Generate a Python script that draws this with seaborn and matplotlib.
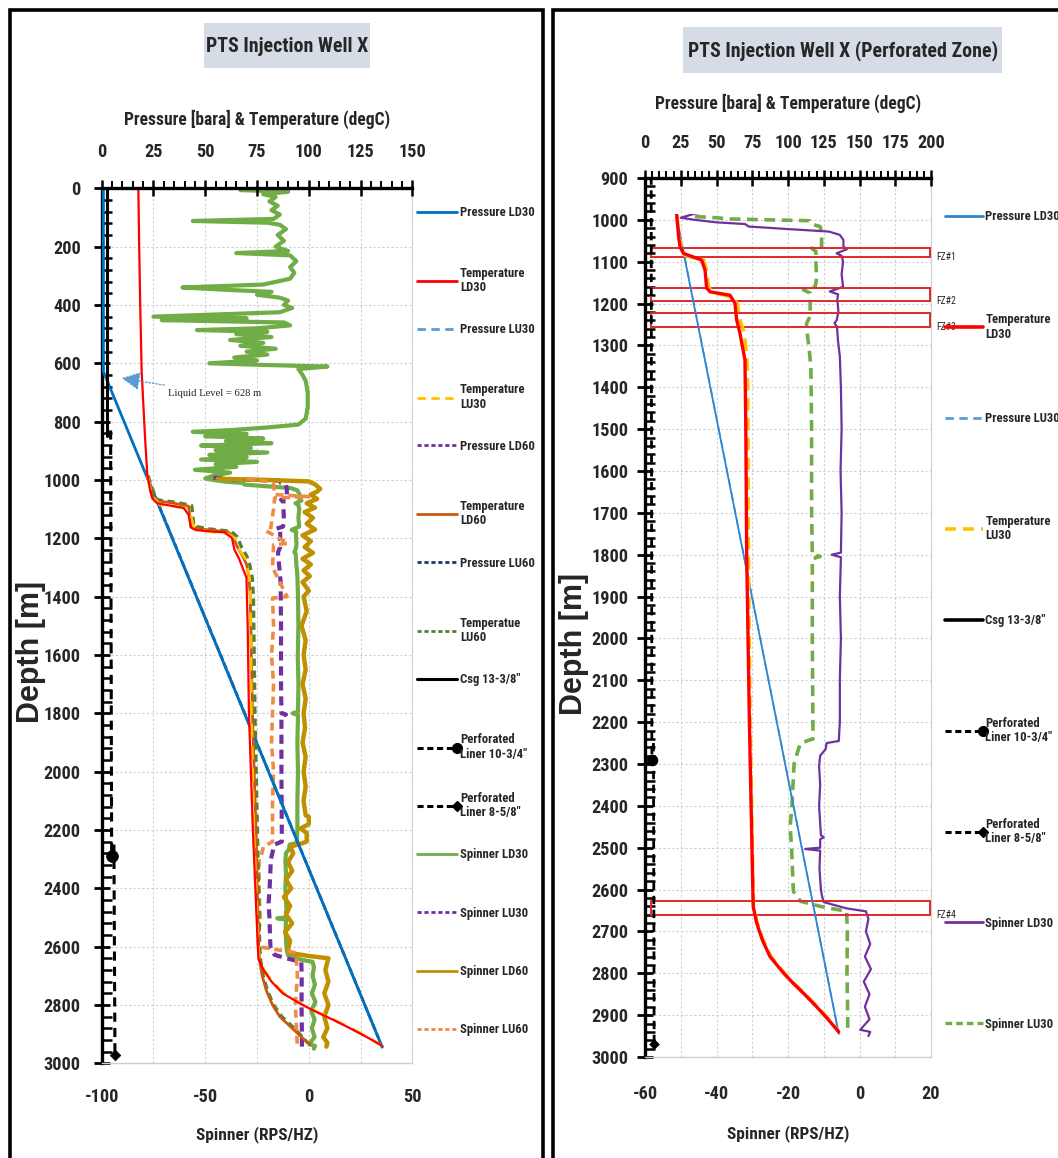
import matplotlib
matplotlib.use("Agg")
import matplotlib.pyplot as plt
import seaborn as sns
import pandas as pd
from matplotlib import font_manager as fm
from matplotlib.lines import Line2D
from matplotlib.patches import Rectangle
from matplotlib.ticker import MultipleLocator
from matplotlib.legend_handler import HandlerLine2D
import matplotlib.transforms as mtransforms

# ---------------------------------------------------------------- data
PRES_LD30_D = [0, 628, 2945]
PRES_LD30_P = [0.8, 0.8, 135.5]
PRES_LU30_D = [995, 2945]
PRES_LU30_P = [22.3, 135.5]
PRES_LD60_D = [995, 2945]
PRES_LD60_P = [22.3, 135.5]
PRES_LU60_D = [995, 2945]
PRES_LU60_P = [22.3, 135.5]

TEMP_LD30_D = [0, 200, 400, 628, 850, 980, 988, 1040, 1064, 1080, 1096, 1120, 1163, 1172,
               1180, 1199, 1239, 1271, 1335, 1500, 1800, 2200, 2600, 2641, 2680, 2720, 2760,
               2800, 2824, 2850, 2880, 2910, 2940]
TEMP_LD30_T = [17.7, 18.1, 18.6, 19.3, 20.9, 22.0, 22.2, 23.5, 24.5, 26.8, 39.6, 42.0, 43.1, 45.5,
               59.4, 62.9, 64.1, 66.4, 69.9, 70.5, 71.1, 73.0, 75.4, 75.7, 78.1, 82.0, 87.4,
               97.0, 103.7, 111.5, 120.0, 128.0, 135.5]
TEMP_LU30_D = [988, 1040, 1064, 1085, 1096, 1120, 1163, 1175, 1185, 1200, 1240, 1271, 1335, 1400,
               1800, 2200, 2600, 2641, 2680, 2720, 2760, 2800, 2824, 2850, 2880, 2910, 2940]
TEMP_LU30_T = [22.2, 23.8, 25.5, 28.0, 41.0, 43.0, 44.5, 50.0, 61.0, 64.5, 66.5, 69.5, 71.3, 71.8,
               72.3, 73.5, 75.6, 75.9, 78.5, 82.5, 88.0, 97.5, 104.0, 112.0, 120.5, 128.5, 135.5]
TEMP_LD60_D = [985, 1000, 1020, 1050, 1070, 1080, 1090, 1160, 1170, 1178, 1195, 1230, 1260, 1290,
               1340, 1411, 1800, 2200, 2600, 2650, 2700, 2750, 2800, 2840, 2880, 2910, 2935]
TEMP_LD60_T = [22.0, 22.5, 23.5, 24.5, 26.0, 35.0, 42.0, 43.0, 50.0, 61.0, 63.5, 65.5, 68.0, 70.0,
               71.2, 71.8, 72.8, 74.5, 75.8, 76.3, 77.5, 79.5, 82.5, 86.0, 92.0, 96.5, 100.5]
TEMP_LU60_D = [985, 1000, 1020, 1050, 1068, 1078, 1088, 1158, 1168, 1176, 1195, 1230, 1260, 1290,
               1340, 1411, 1800, 2200, 2600, 2650, 2700, 2750, 2800, 2840, 2880, 2910, 2930]
TEMP_LU60_T = [22.5, 23.0, 24.0, 25.5, 27.0, 37.0, 43.5, 44.5, 52.0, 62.5, 65.5, 67.5, 70.0, 71.5,
               72.8, 73.3, 74.0, 75.2, 76.3, 76.8, 78.0, 80.0, 83.0, 87.0, 93.0, 97.0, 99.5]

CSG_D = [0, 850]
CSG_P = [2.6, 2.6]
LINER1_D = [830, 2290]
LINER1_P = [4.3, 4.8]
LINER2_D = [2250, 2970]
LINER2_P = [5.9, 6.4]

SPIN_LD30_D = [0, 6, 12, 20, 30, 45, 60, 75, 90, 105, 112, 118, 125, 140, 160, 180, 200, 215, 222,
               230, 250, 270, 290, 310, 330, 340, 348, 355, 365, 375, 385, 400, 410, 425, 440, 446,
               452, 460, 470, 480, 486, 492, 500, 510, 520, 530, 540, 550, 560, 570, 580, 590, 600,
               606, 611, 620, 640, 660, 700, 750, 790, 810, 820, 829, 835, 842, 850, 858, 866, 874,
               882, 890, 898, 906, 914, 922, 930, 938, 946, 955, 965, 975, 985, 995,
               1000, 1006, 1010, 1016, 1022, 1028, 1036, 1048, 1064, 1070, 1080, 1086, 1100, 1130,
               1160, 1171, 1178, 1190, 1220, 1240, 1247, 1255, 1290, 1326, 1400, 1500, 1600, 1700,
               1795, 1800, 1806, 1900, 2000, 2100, 2200, 2245, 2250, 2265, 2280, 2305, 2350, 2400,
               2470, 2475, 2480, 2500, 2503, 2507, 2550, 2600, 2615, 2630, 2645, 2652, 2670, 2700,
               2730, 2760, 2790, 2820, 2850, 2880, 2910, 2935, 2940, 2950]
SPIN_LD30_V = [-9, -33, -10, -22, -16, -19, -15, -18, -14, -17, -56, -20, -14, -11, -15, -12, -16,
               -10, -35, -9, -6, -9, -7, -9, -22, -61, -40, -18, -25, -14, -10, -12, -8, -14, -75,
               -30, -71, -12, -9, -25, -54, -20, -35, -18, -38, -22, -33, -16, -30, -20, -36, -25,
               -48, -20, 9, -5, -3, -1.5, -0.5, -0.5, -1.5, -5, -20, -38, -56, -30, -50, -22, -40,
               -18, -52, -28, -45, -20, -48, -30, -52, -25, -45, -35, -55, -38, -46, -50,
               -46, -40, -32, -31, -20, -8.5, -5.5, -4.5, -4.5, -3.5, -6.4, -5, -4.6, -5,
               -4.6, -8.3, -6, -6.2, -5.9, -6.4, -7, -6.3, -6, -5.5, -5.2, -5, -5.3, -5,
               -5.2, -7.8, -5.2, -5.5, -5.2, -5.5, -5.5, -5.8, -9.2, -9.5, -11, -11.3, -11, -11.3,
               -10.8, -10, -11, -11, -15.2, -11, -11.2, -10.8, -10.5, -10, -3.6, 1.8, 2.5, 1.8,
               3, 1.5, 3.2, 1.2, 2.8, 1.5, 2.8, 0.2, 3, 2.5]
SPIN_LU30_D = [992, 995, 998, 1000, 1002, 1010, 1016, 1032, 1064, 1068, 1075, 1100, 1140, 1160,
               1167, 1175, 1230, 1247, 1260, 1300, 1350, 1500, 1700, 1800, 1804, 1810, 2000, 2240,
               2250, 2265, 2300, 2400, 2450, 2500, 2604, 2628, 2640, 2652, 2700, 2800, 2900, 2943]
SPIN_LU30_V = [-46, -40, -36, -25, -14, -13.5, -11, -10.6, -10.6, -13.4, -12.2, -12.2, -12.0, -12.4,
               -15.7, -13.8, -13.8, -14.8, -14.8, -14.2, -13.6, -13.4, -13.4, -13.2, -11, -13.2,
               -13.2, -13.0, -16.5, -17.1, -18.3, -18.9, -19.4, -19.0, -18.5, -16.5, -11, -3.6,
               -3.4, -3.5, -3.3, -3.3]
SPIN_LD60_D = [996, 1000, 1005, 1015, 1030, 1040, 1050, 1065, 1080, 1095, 1110, 1130, 1150, 1170,
               1190, 1210, 1230, 1250, 1270, 1290, 1310, 1330, 1350, 1380, 1400, 1450, 1500, 1550,
               1600, 1650, 1700, 1750, 1800, 1850, 1900, 1950, 2000, 2050, 2100, 2150, 2155, 2180,
               2195, 2210, 2240, 2250, 2257, 2280, 2310, 2340, 2370, 2400, 2430, 2460, 2490, 2520,
               2550, 2580, 2610, 2622, 2632, 2640, 2680, 2720, 2760, 2800, 2840, 2880, 2910, 2930,
               2943]
SPIN_LD60_V = [-44, -20, 0, 3, 5.5, 4, 1, 4, -1, 3, -2, 2, -1, 3, -3, 1, -2, 2, -3, 1, -2.5, 0.5,
               -3, 0, -2.5, -1, -3.5, -1.5, -2.5, -1.5, -3, -1.5, -2.5, -1.8, -3, -1.5, -2.5, -1.5,
               -2.5, -1.5, 0, 0, -4, -1, -1, -5, -9, -7.5, -10, -8, -11, -8.5, -12, -9, -11, -8,
               -11.5, -9, -10, -9, 0, 9.5, 8, 9.5, 7.5, 9.5, 7.5, 9, 7, 9, 8.5]
SPIN_LU60_D = [995, 1005, 1015, 1050, 1057, 1062, 1100, 1171, 1175, 1217, 1222, 1300, 1400, 1405,
               1500, 1600, 1700, 1800, 1900, 2000, 2100, 2240, 2246, 2257, 2290, 2300, 2400, 2500,
               2600, 2611, 2620, 2640, 2700, 2800, 2943]
SPIN_LU60_V = [-30, -20, -17, -16.5, 0, -16.5, -17, -18.5, -20.5, -10, -17, -17.5, -10.5, -17.5,
               -17, -18, -17, -17.5, -18, -17, -17.5, -17.5, -19, -21.9, -23, -24, -24, -23.5,
               -24.5, -15, -7, -6, -5.5, -6.5, -5.5]

FZ_NAMES = ["FZ#1", "FZ#2", "FZ#3", "FZ#4"]
FZ_TOP = [1068, 1163, 1223, 2628]
FZ_BOTTOM = [1088, 1195, 1255, 2660]
LIQUID_LEVEL = 628

LEFT_LABELS = ["Pressure LD30", "Temperature\nLD30", "Pressure LU30", "Temperature\nLU30",
               "Pressure LD60", "Temperature\nLD60", "Pressure LU60", "Temperatue\nLU60",
               "Csg 13-3/8\"", "Perforated\nLiner 10-3/4\"", "Perforated\nLiner 8-5/8\"",
               "Spinner LD30", "Spinner LU30", "Spinner LD60", "Spinner LU60"]
RIGHT_LABELS = ["Pressure LD30", "Temperature\nLD30", "Pressure LU30", "Temperature\nLU30",
                "Csg 13-3/8\"", "Perforated\nLiner 10-3/4\"", "Perforated\nLiner 8-5/8\"",
                "Spinner LD30", "Spinner LU30"]

# ---------------------------------------------------------------- fonts
sns.set_theme(style="white")
AVAIL = {f.name for f in fm.fontManager.ttflist}
COND = next(n for n in ["Liberation Sans Narrow", "Roboto Condensed", "Open Sans Condensed",
                        "DejaVu Sans Condensed", "Liberation Sans", "DejaVu Sans"]
            if n in AVAIL or n == "DejaVu Sans")
FAM = [COND, "DejaVu Sans"]
BOLD = ["Liberation Sans", "DejaVu Sans"]
SERIF = ["Liberation Serif", "DejaVu Serif"]
plt.rcParams["font.family"] = FAM
plt.rcParams["axes.unicode_minus"] = False
WT = "bold"

W, H = 1058, 1158
fig = plt.figure(figsize=(W / 100, H / 100), dpi=100)
fig.patch.set_facecolor("white")
RENDER = fig.canvas.get_renderer()


def fit(text, target_px, family=None, weight=WT, ref=10.0):
    t = fig.text(0, 0, text, fontsize=ref, family=family or FAM, fontweight=weight)
    w = t.get_window_extent(renderer=RENDER).width
    t.remove()
    return ref * target_px / w


FS_TICK = fit("1000", 37)
FS_AXLAB = fit("Pressure [bara] & Temperature (degC)", 267)
FS_SPIN = fit("Spinner (RPS/HZ)", 122)
FS_TITLE = fit("PTS Injection Well X", 162)
FS_LEG = fit("Pressure LD30", 74)
FS_DEPTH = fit("Depth [m]", 142, family=BOLD, weight="bold")
FS_LIQ = fit("Liquid Level = 628 m", 94, family=SERIF, weight="normal")
FS_FZ = fit("FZ#1", 20, weight="normal")

SHORT = (0, (2.2, 1.4))
LONG = (0, (5, 3))
GRIDC = "#CFCFCF"


class EndMarkerHandler(HandlerLine2D):
    """Legend handle: dashed line with its marker drawn at the right end."""

    def create_artists(self, legend, orig_handle, xdescent, ydescent, width, height,
                       fontsize, trans):
        arts = super().create_artists(legend, orig_handle, xdescent, ydescent, width, height,
                                      fontsize, trans)
        for a in arts:
            if a.get_marker() not in (None, "None", "", " "):
                a.set_markevery([len(a.get_xdata()) - 1])
        return arts


def prof(ax, vals, depths, color, ls="-", lw=1.5, dmin=None, z=2):
    df = pd.DataFrame({"val": vals, "depth": depths})
    sns.lineplot(data=df, x="val", y="depth", sort=False, estimator=None, ax=ax,
                 color=color, linestyle=ls, linewidth=lw, legend=False, zorder=z)
    if dmin is not None:
        clip = Rectangle((-1000, dmin), 3000, 5000, transform=ax.transData)
        ax.lines[-1].set_clip_path(clip)


def end_marker(ax, vals, depths, marker, size):
    sns.scatterplot(x=[vals[-1]], y=[depths[-1]], marker=marker, s=size, color="black",
                    edgecolor="black", ax=ax, legend=False, zorder=6)


def px_axes(x0, y0, x1, y1):
    return [x0 / W, 1 - y1 / H, (x1 - x0) / W, (y1 - y0) / H]


def style_axes(ax, ax2, xlim_s, xlim_p, ylim, ymaj, ymin_, s_major, s_grid, p_minor,
               ypad, xpad_top, xpad_bot, toplabpad, botlabpad):
    ax.set_xlim(*xlim_s)
    ax.set_ylim(*ylim)
    ax2.set_xlim(*xlim_p)
    ax.xaxis.set_major_locator(MultipleLocator(s_major))
    ax.xaxis.set_minor_locator(MultipleLocator(s_grid))
    ax.yaxis.set_major_locator(MultipleLocator(ymaj))
    ax.yaxis.set_minor_locator(MultipleLocator(ymin_))
    ax2.xaxis.set_major_locator(MultipleLocator(25))
    ax2.xaxis.set_minor_locator(MultipleLocator(p_minor))
    ax.grid(True, axis="x", which="both", color=GRIDC, linestyle=(0, (2, 2)), lw=0.8)
    ax.grid(True, axis="y", which="major", color=GRIDC, linestyle=(0, (2, 2)), lw=0.8)
    ax.set_axisbelow(True)
    ax.spines["top"].set_visible(False)
    ax.spines["left"].set_color("black")
    ax.spines["left"].set_linewidth(2.4)
    ax.spines["bottom"].set_color(GRIDC)
    ax.spines["right"].set_color(GRIDC)
    ax.spines["bottom"].set_linewidth(1)
    ax.spines["right"].set_linewidth(0.8)
    for s in ["left", "right", "bottom"]:
        ax2.spines[s].set_visible(False)
    ax2.spines["top"].set_color("black")
    ax2.spines["top"].set_linewidth(2.4)
    ax.tick_params(axis="x", which="both", length=0, labelsize=FS_TICK, pad=xpad_bot)
    ax.tick_params(axis="y", which="major", direction="inout", length=12, width=2,
                   color="black", labelsize=FS_TICK, left=True, pad=ypad)
    ax.tick_params(axis="y", which="minor", direction="in", length=7, width=1.8,
                   color="black", left=True)
    ax2.tick_params(axis="x", which="major", direction="inout", length=12, width=1.8,
                    color="black", labelsize=FS_TICK, pad=xpad_top, top=True)
    ax2.tick_params(axis="x", which="minor", direction="out", length=5, width=1.4,
                    color="black", top=True)
    for lab in ax.get_xticklabels() + ax.get_yticklabels() + ax2.get_xticklabels():
        lab.set_fontweight(WT)
    ax.set_xlabel("Spinner (RPS/HZ)", fontsize=FS_SPIN, labelpad=botlabpad, fontweight=WT)
    ax2.set_xlabel("Pressure [bara] & Temperature (degC)", fontsize=FS_AXLAB,
                   labelpad=toplabpad, fontweight=WT)
    ax.set_ylabel("Depth [m]", fontsize=FS_DEPTH, fontweight="bold", family=BOLD)


def legend_entries(handles, labels, x_px, y0_px, step_px, hlen):
    for i, (h, lab) in enumerate(zip(handles, labels)):
        nl = lab.count("\n") + 1
        y = y0_px + i * step_px + (nl - 1) * 9.0
        leg = fig.legend([h], [lab], loc="center left",
                         bbox_to_anchor=(x_px / W, 1 - y / H), frameon=False,
                         prop={"family": FAM, "size": FS_LEG, "weight": WT}, handlelength=hlen,
                         handletextpad=0.2, borderpad=0, borderaxespad=0,
                         handler_map={h: EndMarkerHandler()})
        for t in leg.get_texts():
            t.set_linespacing(1.15)


# ---------------------------------------------------------------- left panel
axL = fig.add_axes(px_axes(101.7, 188.3, 412.3, 1063.3))
axL2 = axL.twiny()

prof(axL, SPIN_LD30_V, SPIN_LD30_D, "#70AD47", "-", 3.0, z=3)
prof(axL, SPIN_LU30_V, SPIN_LU30_D, "#7030A0", SHORT, 3.0, z=3)
prof(axL, SPIN_LD60_V, SPIN_LD60_D, "#BF9000", "-", 3.2, z=3)
prof(axL, SPIN_LU60_V, SPIN_LU60_D, "#F08A44", SHORT, 2.6, z=3)

prof(axL2, PRES_LU60_P, PRES_LU60_D, "#203864", SHORT, 2.0)
prof(axL2, PRES_LD60_P, PRES_LD60_D, "#7030A0", SHORT, 1.6)
prof(axL2, PRES_LU30_P, PRES_LU30_D, "#5B9BD5", LONG, 1.6)
prof(axL2, PRES_LD30_P, PRES_LD30_D, "#0070C0", "-", 2.0)
prof(axL2, TEMP_LU60_T, TEMP_LU60_D, "#548235", SHORT, 2.4)
prof(axL2, TEMP_LD60_T, TEMP_LD60_D, "#C55A11", "-", 2.0)
prof(axL2, TEMP_LU30_T, TEMP_LU30_D, "#FFC000", LONG, 2.0)
prof(axL2, TEMP_LD30_T, TEMP_LD30_D, "#FF0000", "-", 1.6)
prof(axL2, CSG_P, CSG_D, "black", "-", 2.2)
prof(axL2, LINER1_P, LINER1_D, "black", (0, (3, 2)), 2.2)
prof(axL2, LINER2_P, LINER2_D, "black", (0, (3, 2)), 2.2)
end_marker(axL2, LINER1_P, LINER1_D, "o", 70)
end_marker(axL2, LINER2_P, LINER2_D, "D", 30)

style_axes(axL, axL2, (-100, 50), (0, 150), (3000, 0), 200, 40, 50, 25, 5,
           ypad=9, xpad_top=14, xpad_bot=18, toplabpad=13, botlabpad=14)
axL.yaxis.set_label_coords(-0.178, 0.47)

axL2.annotate(f"Liquid Level = {LIQUID_LEVEL} m", xy=(9.6, LIQUID_LEVEL + 23),
              xytext=(32, LIQUID_LEVEL + 75), fontsize=FS_LIQ, va="center", ha="left",
              family=SERIF,
              arrowprops=dict(arrowstyle="-|>", color="#5B9BD5", linestyle=(0, (1, 1.5)),
                              lw=1, mutation_scale=28, shrinkA=2, shrinkB=0))

# ---------------------------------------------------------------- right panel
axR = fig.add_axes(px_axes(645, 178, 931, 1057))
axR2 = axR.twiny()
DMIN = 985
prof(axR, SPIN_LU30_V, SPIN_LU30_D, "#70AD47", (0, (3, 1.8)), 2.6, dmin=DMIN, z=3)
prof(axR, SPIN_LD30_V, SPIN_LD30_D, "#7030A0", "-", 1.6, dmin=DMIN, z=3)

prof(axR2, PRES_LU30_P, PRES_LU30_D, "#5B9BD5", LONG, 1.2, dmin=DMIN)
prof(axR2, PRES_LD30_P, PRES_LD30_D, "#2F86D0", "-", 1.3, dmin=DMIN)
prof(axR2, TEMP_LU30_T, TEMP_LU30_D, "#FFC000", (0, (3.5, 2)), 2.6, dmin=DMIN)
prof(axR2, TEMP_LD30_T, TEMP_LD30_D, "#FF0000", "-", 2.4, dmin=DMIN)
prof(axR2, CSG_P, CSG_D, "black", "-", 2.2)
prof(axR2, LINER1_P, LINER1_D, "black", (0, (3, 2)), 2.0)
prof(axR2, LINER2_P, LINER2_D, "black", (0, (3, 2)), 2.0)
end_marker(axR2, LINER1_P, LINER1_D, "o", 60)
end_marker(axR2, LINER2_P, LINER2_D, "D", 25)

style_axes(axR, axR2, (-60, 20), (0, 200), (3000, 900), 100, 20, 20, 10, 5,
           ypad=6, xpad_top=12.5, xpad_bot=20, toplabpad=18.5, botlabpad=16)
axR.yaxis.set_label_coords(-0.195, 0.47)

tr = mtransforms.blended_transform_factory(axR.transAxes, axR.transData)
for name, top, bot in zip(FZ_NAMES, FZ_TOP, FZ_BOTTOM):
    axR.axhspan(top, bot, xmin=0.02, xmax=0.995, fill=False, edgecolor="#E0282A",
                lw=1.4, zorder=5)
    axR.text(1.02, bot, name, transform=tr, fontsize=FS_FZ, va="center", ha="left")

# ---------------------------------------------------------------- legends
LHL = [
    Line2D([], [], color="#0070C0", lw=2),
    Line2D([], [], color="#FF0000", lw=2),
    Line2D([], [], color="#5B9BD5", lw=2, ls=(0, (3, 2))),
    Line2D([], [], color="#FFC000", lw=2, ls=(0, (3, 2))),
    Line2D([], [], color="#7030A0", lw=2, ls=(0, (1.5, 1))),
    Line2D([], [], color="#C55A11", lw=2),
    Line2D([], [], color="#203864", lw=2, ls=(0, (1.5, 1))),
    Line2D([], [], color="#548235", lw=2, ls=(0, (1.5, 1))),
    Line2D([], [], color="black", lw=2.2),
    Line2D([], [], color="black", lw=2.2, ls=(0, (2, 1.2)), marker="o", markersize=7),
    Line2D([], [], color="black", lw=2.2, ls=(0, (2, 1.2)), marker="D", markersize=5),
    Line2D([], [], color="#70AD47", lw=2),
    Line2D([], [], color="#7030A0", lw=2, ls=(0, (1.5, 1))),
    Line2D([], [], color="#BF9000", lw=2),
    Line2D([], [], color="#F08A44", lw=2, ls=(0, (1.5, 1))),
]
legend_entries(LHL, LEFT_LABELS, 417, 213, 58.35, 3.2)

RHL = [
    Line2D([], [], color="#2F86D0", lw=2),
    Line2D([], [], color="#FF0000", lw=2.6),
    Line2D([], [], color="#5B9BD5", lw=2, ls=(0, (3, 2))),
    Line2D([], [], color="#FFC000", lw=2.6, ls=(0, (3, 2))),
    Line2D([], [], color="black", lw=2.6),
    Line2D([], [], color="black", lw=2.2, ls=(0, (2, 1.2)), marker="o", markersize=7),
    Line2D([], [], color="black", lw=2.2, ls=(0, (2, 1.2)), marker="D", markersize=5),
    Line2D([], [], color="#7030A0", lw=2),
    Line2D([], [], color="#70AD47", lw=2.4, ls=(0, (2, 1.2))),
]
legend_entries(RHL, RIGHT_LABELS, 945, 217, 100.9, 3.0)

# ---------------------------------------------------------------- titles & frames
fig.add_artist(Rectangle((204 / W, 1 - 68 / H), 166 / W, 45 / H, transform=fig.transFigure,
                         fc="#D6DCE5", ec="none", zorder=0))
fig.add_artist(Rectangle((683 / W, 1 - 73 / H), 319 / W, 46 / H, transform=fig.transFigure,
                         fc="#D6DCE5", ec="none", zorder=0))
fig.text(287 / W, 1 - 46 / H, "PTS Injection Well X", ha="center", va="center",
         fontsize=FS_TITLE, fontweight=WT, zorder=2)
fig.text(843 / W, 1 - 51 / H, "PTS Injection Well X (Perforated Zone)", ha="center",
         va="center", fontsize=FS_TITLE, fontweight=WT, zorder=2)

fig.add_artist(Rectangle((10 / W, -0.02), (543 - 10) / W, 1.02 - 10 / H,
                         transform=fig.transFigure, fill=False, ec="black", lw=2.6))
fig.add_artist(Rectangle((553 / W, -0.02), 0.5, 1.02 - 10 / H, transform=fig.transFigure,
                         fill=False, ec="black", lw=2.6))

fig.savefig("out.png", dpi=100, facecolor="white")
